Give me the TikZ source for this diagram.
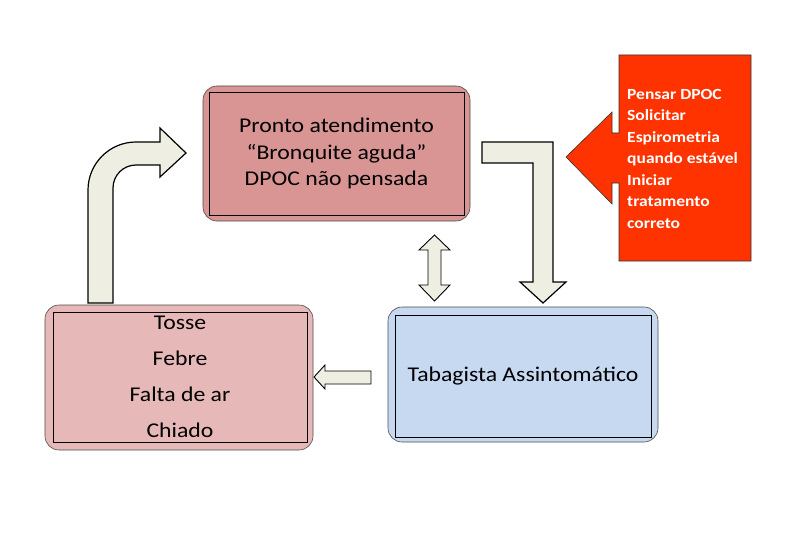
\documentclass[tikz,border=0pt]{standalone}
\usepackage{fontspec}
\setmainfont{Carlito}[FakeStretch=1.13]
\usepackage{tikz}
\usetikzlibrary{calc,positioning}
\definecolor{pinkA}{HTML}{D99594}
\definecolor{pinkB}{HTML}{E6B9B8}
\definecolor{blueA}{HTML}{C6D9F1}
\definecolor{redA}{HTML}{FF3300}
\definecolor{arrowfill}{HTML}{EEEEE2}

\begin{document}
\begin{tikzpicture}[x=1pt,y=-1pt]
\tikzset{outerbox/.style={rectangle,rounded corners=14pt,draw=black!70,line width=0.6pt},
innerbox/.style={rectangle,draw=black,line width=0.8pt,align=center,inner sep=0pt},
boxtext/.style={font=\fontsize{21}{26.5}\selectfont},
blockarrow/.style={draw=black,line width=1.2pt,fill=arrowfill,line join=miter}}

\useasboundingbox (0,0) rectangle (810,540);

%% Boxes
\node (pa) [outerbox,fill=pinkA,minimum width=267,minimum height=135] at (336.5,153.5) {};
\node (pain) [innerbox,boxtext,minimum width=255,minimum height=123] at (pa) {Pronto atendimento\\``Bronquite aguda''\\DPOC não pensada};

\node (sint) [outerbox,fill=pinkB,minimum width=268,minimum height=145] at (179,377.5) {};
\node (sintin) [innerbox,font=\fontsize{21}{36}\selectfont,minimum width=254,minimum height=130] at (180,377) {Tosse\\Febre\\Falta de ar\\Chiado};

\node (tab) [outerbox,fill=blueA,minimum width=270,minimum height=135] at (523,374.5) {};
\node (tabin) [innerbox,boxtext,minimum width=256,minimum height=122] at (523,376) {Tabagista Assintomático};

%% Callout
\draw [fill=redA,draw=black!80,line width=0.6pt] (751,55) -- (619,55) -- (619,133) -- (612,133) -- (612,112)
  -- (566,157) -- (612,204) -- (612,183) -- (619,183) -- (619,261) -- (751,261) -- cycle;
\node (pensar) [anchor=west,align=left,text=white,inner sep=0pt,
  font=\fontsize{15.5}{21.5}\selectfont\bfseries] at (627,158.5)
  {Pensar DPOC\\Solicitar\\Espirometria\\quando estável\\Iniciar\\tratamento\\correto};

%% Arrows
\draw [blockarrow] (88,303) -- (88,190) .. controls (88,163.5) and (109.5,142) .. (136,142) -- (160,142)
  -- (160,128) -- (186,153) -- (160,177) -- (160,165) -- (136,165)
  .. controls (123.3,165) and (113,175.3) .. (113,188) -- (113,303) -- cycle;
\draw [blockarrow] (482,142) -- (553,142) -- (553,282) -- (566,282) -- (543,303) -- (520,282)
  -- (533,282) -- (533,163) -- (482,163) -- cycle;
\draw [blockarrow,line width=0.9pt] (434.5,235) -- (450,250) -- (441,250) -- (441,285) -- (450,285) -- (434.5,301)
  -- (419,285) -- (428,285) -- (428,250) -- (419,250) -- cycle;
\draw [blockarrow,line width=0.9pt] (314,377) -- (325,365) -- (325,371) -- (371,371) -- (371,384)
  -- (325,384) -- (325,389) -- cycle;

\end{tikzpicture}
\end{document}
